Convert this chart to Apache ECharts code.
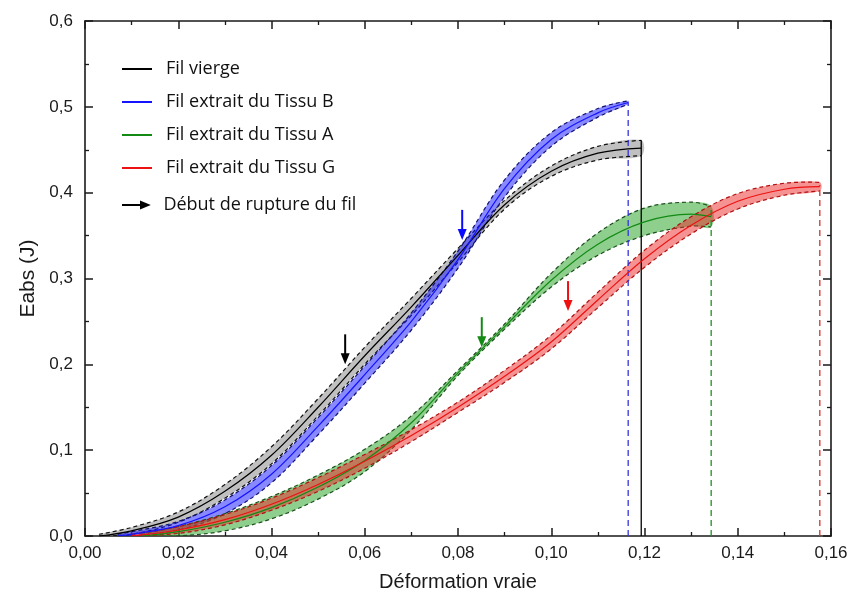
<!DOCTYPE html>
<html><head><meta charset="utf-8">
<script src="https://cdn.jsdelivr.net/npm/echarts@6/dist/echarts.min.js"></script>
<style>html,body{margin:0;padding:0;background:#fff}#c{width:855px;height:602px}</style>
</head><body><div id="c"></div>
<script>
// ---- tick labels ----
const xTickLabels = ['0,00','0,02','0,04','0,06','0,08','0,10','0,12','0,14','0,16'];
const yTickLabels = ['0,0','0,1','0,2','0,3','0,4','0,5','0,6'];

// ---- Fil vierge (black) ----
const blackX   = [0.003, 0.01, 0.02, 0.03, 0.04, 0.05, 0.06, 0.07, 0.08, 0.09, 0.10, 0.11, 0.1193];
const blackY   = [0.000, 0.006, 0.022, 0.052, 0.094, 0.150, 0.210, 0.267, 0.327, 0.386, 0.425, 0.446, 0.452];
const blackErr = [0.002, 0.004, 0.006, 0.008, 0.010, 0.010, 0.010, 0.010, 0.008, 0.005, 0.006, 0.008, 0.009];

// ---- Fil extrait du Tissu B (blue) ----
const blueX   = [0.007, 0.01, 0.02, 0.03, 0.04, 0.05, 0.06, 0.07, 0.08, 0.09, 0.10, 0.11, 0.1165];
const blueY   = [0.000, 0.002, 0.012, 0.034, 0.072, 0.128, 0.188, 0.250, 0.322, 0.405, 0.462, 0.493, 0.505];
const blueErr = [0.002, 0.003, 0.005, 0.008, 0.010, 0.010, 0.010, 0.010, 0.010, 0.010, 0.008, 0.005, 0.002];

// ---- Fil extrait du Tissu A (green) ----
const greenX   = [0.012, 0.02, 0.03, 0.04, 0.05, 0.06, 0.07, 0.08, 0.09, 0.10, 0.11, 0.12, 0.13, 0.1343];
const greenY   = [0.000, 0.005, 0.016, 0.033, 0.057, 0.088, 0.132, 0.190, 0.244, 0.298, 0.340, 0.366, 0.375, 0.372];
const greenErr = [0.002, 0.006, 0.010, 0.013, 0.014, 0.013, 0.008, 0.003, 0.003, 0.008, 0.013, 0.016, 0.014, 0.012];

// ---- Fil extrait du Tissu G (red) ----
const redX   = [0.01, 0.02, 0.03, 0.04, 0.05, 0.06, 0.07, 0.08, 0.09, 0.10, 0.11, 0.12, 0.13, 0.14, 0.15, 0.1576];
const redY   = [0.000, 0.007, 0.019, 0.037, 0.060, 0.087, 0.117, 0.150, 0.186, 0.226, 0.275, 0.323, 0.362, 0.390, 0.404, 0.407];
const redErr = [0.002, 0.004, 0.006, 0.007, 0.008, 0.008, 0.007, 0.006, 0.007, 0.008, 0.009, 0.010, 0.010, 0.009, 0.007, 0.005];

// ---- rupture (vertical drop lines): blue, black, green, red ----
const dropX   = [0.1165, 0.1193, 0.1343, 0.1576];
const dropTop = [0.505, 0.461, 0.384, 0.409];

// ---- "Début de rupture du fil" arrows (tip positions): black, blue, green, red ----
const arrowX = [0.0558, 0.0809, 0.0851, 0.1036];
const arrowY = [0.200, 0.345, 0.220, 0.262];

const names = ['Fil vierge','Fil extrait du Tissu B','Fil extrait du Tissu A','Fil extrait du Tissu G'];
const lineColors = ['#000000','#1414ff','#138a13','#ee1111'];
const fillColors = ['rgba(130,130,130,0.5)','rgba(20,20,255,0.5)','rgba(30,160,30,0.5)','rgba(235,40,40,0.5)'];
const edgeColors = ['#111111','#101070','#1c4f1c','#b01010'];
const dropColors = ['#3333dd','#000000','#1f8f1f','#d43030'];
const dropDashed = [true, false, true, true];
const arrowColors = ['#000000','#0a0aff','#138a13','#ee1111'];

const curves = [
  [blackX, blackY, blackErr],
  [blueX, blueY, blueErr],
  [greenX, greenY, greenErr],
  [redX, redY, redErr]
];

const SM = 0.35;
function bandSeries(k) {
  const xs = curves[k][0], ys = curves[k][1], es = curves[k][2];
  return {
    type: 'custom', name: names[k] + ' (IC)', silent: true, z: 1 + k * 0.01,
    data: [[xs[0], ys[0]]], encode: {x: 0, y: 1}, clip: true,
    renderItem: function (params, api) {
      const up = xs.map((x, i) => api.coord([x, ys[i] + es[i]]));
      const lo = xs.map((x, i) => api.coord([x, Math.max(0, ys[i] - es[i])]));
      return {type: 'group', children: [
        {type: 'polygon', shape: {points: up.concat(lo.slice().reverse()), smooth: SM}, style: {fill: fillColors[k]}},
        {type: 'polyline', shape: {points: up, smooth: SM}, style: {stroke: edgeColors[k], lineWidth: 1.2, lineDash: [4, 3], fill: 'none'}},
        {type: 'polyline', shape: {points: lo, smooth: SM}, style: {stroke: edgeColors[k], lineWidth: 1.2, lineDash: [4, 3], fill: 'none'}}
      ]};
    }
  };
}
function centerSeries(k) {
  const xs = curves[k][0], ys = curves[k][1];
  return {
    type: 'line', name: names[k], smooth: SM, symbol: 'none', z: 3,
    data: xs.map((x, i) => [x, ys[i]]),
    lineStyle: {color: lineColors[k], width: 1.2}, itemStyle: {color: lineColors[k]}
  };
}
function dropSeries(j) {
  return {
    type: 'line', name: 'rupture ' + j, symbol: 'none', z: 2,
    data: [[dropX[j], 0], [dropX[j], dropTop[j]]],
    lineStyle: {color: dropColors[j], width: 1.3, type: dropDashed[j] ? [6, 4] : 'solid'}
  };
}

const arrowSeries = {
  type: 'custom', name: 'Début de rupture du fil', z: 5,
  itemStyle: {color: '#000'},
  data: arrowX.map((x, i) => [x, arrowY[i]]), encode: {x: 0, y: 1},
  renderItem: function (params, api) {
    const i = params.dataIndex;
    const tip = api.coord([arrowX[i], arrowY[i]]);
    const c = arrowColors[i];
    return {type: 'group', children: [
      {type: 'line', shape: {x1: tip[0], y1: tip[1] - 30, x2: tip[0], y2: tip[1] - 9}, style: {stroke: c, lineWidth: 2}},
      {type: 'polygon', shape: {points: [[tip[0] - 4.5, tip[1] - 11], [tip[0] + 4.5, tip[1] - 11], [tip[0], tip[1]]]}, style: {fill: c}}
    ]};
  }
};

const series = [];
[0, 1, 2, 3].forEach(k => series.push(bandSeries(k)));
[0, 1, 2, 3].forEach(j => series.push(dropSeries(j)));
[0, 1, 2, 3].forEach(k => series.push(centerSeries(k)));
series.push(arrowSeries);

const axisFont = {fontFamily: 'Liberation Sans', fontSize: 17, color: '#1a1a1a'};
const frame = {show: true, onZero: false, lineStyle: {color: '#1a1a1a', width: 1.6}};
const tick = {show: true, inside: true, length: 8, lineStyle: {color: '#1a1a1a', width: 1.5}};
const minor = {show: true, splitNumber: 2, length: 4, lineStyle: {color: '#1a1a1a', width: 1.3}};
const legendText = {fontFamily: 'Open Sans', fontSize: 18, color: '#111'};

const chart = echarts.init(document.getElementById('c'), null, {renderer: 'canvas'});
chart.setOption({
  animation: false,
  backgroundColor: '#fff',
  grid: {left: 85, right: 24, top: 21, bottom: 66},
  legend: [{
    data: names.map(n => ({name: n, icon: 'rect'})), orient: 'vertical', left: 117, top: 55,
    itemWidth: 30, itemHeight: 2, itemGap: 15,
    textStyle: Object.assign({padding: [0, 0, 0, 9]}, legendText),
    selectedMode: false
  }, {
    data: [{name: 'Début de rupture du fil', icon: 'path://M0,4 L20,4 L20,0 L32,5 L20,10 L20,6 L0,6 Z', itemStyle: {color: '#000'}}],
    orient: 'vertical', left: 117, top: 191,
    itemWidth: 30, itemHeight: 9,
    textStyle: Object.assign({padding: [0, 0, 0, 7]}, legendText),
    selectedMode: false
  }],
  xAxis: [{
    type: 'value', min: 0, max: 0.16, interval: 0.02, position: 'bottom',
    name: 'Déformation vraie', nameLocation: 'middle', nameGap: 36,
    nameTextStyle: {fontFamily: 'Liberation Sans', fontSize: 20, color: '#1a1a1a'},
    axisLine: frame, axisTick: tick, minorTick: minor, splitLine: {show: false},
    axisLabel: Object.assign({margin: 9, formatter: v => xTickLabels[Math.round(v / 0.02)]}, axisFont)
  }, {
    type: 'value', min: 0, max: 0.16, interval: 0.02, position: 'top',
    axisLine: frame, axisTick: tick, minorTick: minor, splitLine: {show: false}, axisLabel: {show: false}
  }],
  yAxis: [{
    type: 'value', min: 0, max: 0.6, interval: 0.1, position: 'left',
    name: 'Eabs (J)', nameLocation: 'middle', nameGap: 46,
    nameTextStyle: {fontFamily: 'Liberation Sans', fontSize: 21, color: '#1a1a1a'},
    axisLine: frame, axisTick: tick, minorTick: minor, splitLine: {show: false},
    axisLabel: Object.assign({margin: 12, formatter: v => yTickLabels[Math.round(v / 0.1)]}, axisFont)
  }, {
    type: 'value', min: 0, max: 0.6, interval: 0.1, position: 'right',
    axisLine: frame, axisTick: tick, minorTick: minor, splitLine: {show: false}, axisLabel: {show: false}
  }],
  series: series
});
</script>
</body></html>
